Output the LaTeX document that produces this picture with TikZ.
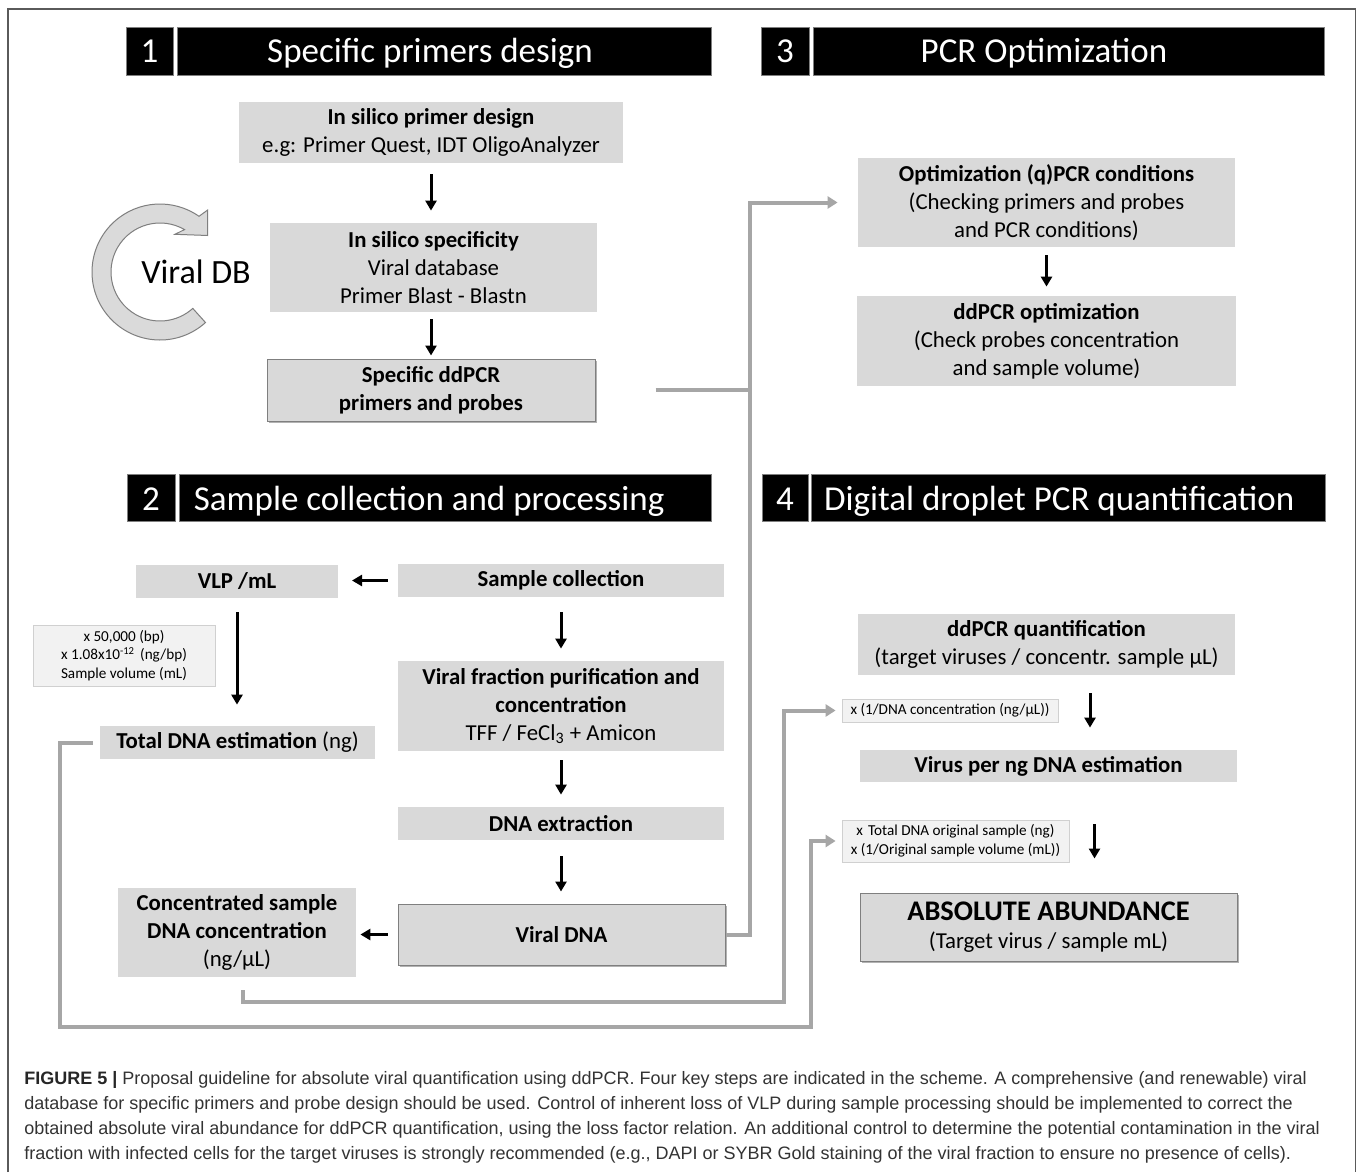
\documentclass[tikz,border=0pt]{standalone}
\usepackage{fontspec}
\setmainfont{Carlito}
\newfontfamily\capfont{Liberation Sans}
\usetikzlibrary{arrows.meta,shadows,calc}
\definecolor{boxgray}{HTML}{D9D9D9}
\definecolor{lightbox}{HTML}{F2F2F2}
\definecolor{lightedge}{HTML}{D0D0D0}
\definecolor{connector}{HTML}{A6A6A6}
\definecolor{edgegray}{HTML}{7F7F7F}
\definecolor{framegray}{HTML}{5A5A5A}
\definecolor{captext}{HTML}{333333}
\definecolor{circfill}{HTML}{DADADA}
\newcommand\fsz[2]{\fontsize{#1pt}{#2pt}\selectfont}
\begin{document}
\begin{tikzpicture}[x=0.5pt,y=-0.5pt,
  numbox/.style={fill=black, draw=edgegray, line width=0.4pt, inner sep=0pt},
  barbox/.style={fill=black, draw=edgegray, line width=0.4pt, inner sep=0pt},
  bartext/.style={text=white, inner sep=0pt, anchor=base, font=\fsz{17.5}{21}},
  gbox/.style={fill=boxgray, inner sep=0pt, align=center, font=\fsz{11.4}{14}},
  sbox/.style={gbox, draw=edgegray, line width=0.5pt, drop shadow={shadow xshift=1pt, shadow yshift=-1pt, fill=black, opacity=0.3}},
  smallbox/.style={fill=lightbox, draw=lightedge, line width=0.4pt, inner sep=0pt, align=center, font=\fsz{7.6}{9.35}},
  barrow/.style={draw=black, line width=1.5pt, -{Triangle[length=5pt,width=5.5pt]}},
  garrow/.style={draw=connector, line width=2pt, -{Triangle[length=5pt,width=6pt]}},
  gline/.style={draw=connector, line width=2pt},
  captxt/.style={anchor=base west, inner sep=0pt, font=\capfont\fsz{9}{12}, text=captext}
]
\useasboundingbox (0,0) rectangle (1358,1172);
\fill[white] (0,0) rectangle (1358,1172);
\draw[framegray, line width=0.8pt] (8,1172) -- (8,9) -- (1355.5,9) -- (1355.5,1172);

% headers
\node[numbox, minimum width=23.5pt, minimum height=24pt] (n1) at (149.5,51) {};
\node[bartext] (d1) at (149.5,63) {1};
\node[barbox, minimum width=267pt, minimum height=24pt] (b1) at (444,51) {};
\node[bartext] (t1) at (430,63) {Specific primers design};
\node[numbox, minimum width=24pt, minimum height=24pt] (n3) at (785,51) {};
\node[bartext] (d3) at (785,63) {3};
\node[barbox, minimum width=255.4pt, minimum height=24pt] (b3) at (1069,51) {};
\node[bartext] (t3) at (1044,63) {PCR Optimization};
\node[numbox, minimum width=24pt, minimum height=23.5pt] (n2) at (151,497.5) {};
\node[bartext] (d2) at (151,510) {2};
\node[barbox, minimum width=266.4pt, minimum height=23.5pt] (b2) at (445.35,497.5) {};
\node[bartext, anchor=base west] (t2) at (193.5,510) {Sample collection and processing};
\node[numbox, minimum width=23pt, minimum height=23.5pt] (n4) at (785,497.5) {};
\node[bartext] (d4) at (785,510) {4};
\node[barbox, minimum width=256.7pt, minimum height=23.5pt] (b4) at (1068.35,497.5) {};
\node[bartext, anchor=base west] (t4) at (823.6,510) {Digital droplet PCR quantification};

% circular arrow
\filldraw[fill=circfill, draw=edgegray, line width=0.5pt]
  ($(160,272)+(48:68)$) arc[start angle=48, end angle=305, radius=68]
  -- (207.7,210) -- (207.7,235.5) -- (175,234.3)
  -- ($(160,272)+(300:49)$) arc[start angle=300, end angle=48, radius=49] -- cycle;
\node[inner sep=0pt, font=\fsz{17}{20}] (vdb) at (196,272) {Viral DB};

% section 1
\node[gbox, minimum width=192pt, minimum height=30.5pt] (A) at (431,132.5)
  {\textbf{In silico primer design}\\e.g: Primer Quest, IDT OligoAnalyzer};
\node[gbox, minimum width=163.5pt, minimum height=44.5pt] (B) at (433.5,267.5)
  {\textbf{In silico specificity}\\Viral database\\Primer Blast - Blastn};
\node[sbox, minimum width=164pt, minimum height=31pt] (C) at (431,390)
  {\textbf{Specific ddPCR}\\\textbf{primers and probes}};

% section 3
\node[gbox, minimum width=188.5pt, minimum height=44.5pt] (D) at (1046.5,202.5)
  {\textbf{Optimization (q)PCR conditions}\\(Checking primers and probes\\and PCR conditions)};
\node[gbox, minimum width=189.5pt, minimum height=45pt] (E) at (1046.5,341)
  {\textbf{ddPCR optimization}\\(Check probes concentration\\and sample volume)};

% section 2
\node[gbox, minimum width=101pt, minimum height=16.5pt] (F) at (237,581.5) {\textbf{VLP /mL}};
\node[gbox, minimum width=163pt, minimum height=16.5pt] (G) at (561,580.5) {\textbf{Sample collection}};
\node[smallbox, minimum width=91pt, minimum height=30.5pt] (H) at (124,655.5)
  {x 50,000 (bp)\\x 1.08x10\textsuperscript{-12}\,\,(ng/bp)\\Sample volume (mL)};
\node[gbox, minimum width=137.5pt, minimum height=16.5pt] (I) at (237.5,742.5) {\textbf{Total DNA estimation} (ng)};
\node[gbox, minimum width=163pt, minimum height=45pt] (J) at (561,706)
  {\textbf{Viral fraction purification and}\\\textbf{concentration}\\TFF / FeCl\textsubscript{3} + Amicon};
\node[gbox, minimum width=163pt, minimum height=16.5pt] (K) at (561,823.5) {\textbf{DNA extraction}};
\node[sbox, minimum width=163.5pt, minimum height=30.5pt] (L) at (561.5,934.5) {\textbf{Viral DNA}};
\node[gbox, minimum width=119pt, minimum height=44.5pt] (M) at (237,932.5)
  {\textbf{Concentrated sample}\\\textbf{DNA concentration}\\(ng/µL)};

% section 4
\node[gbox, minimum width=188.5pt, minimum height=30.5pt] (N) at (1046.5,644.5)
  {\textbf{ddPCR quantification}\\(target viruses / concentr. sample µL)};
\node[smallbox, minimum width=108pt, minimum height=11.5pt] (O) at (950,710.5)
  {x (1/DNA concentration (ng/µL))};
\node[gbox, minimum width=188.5pt, minimum height=16pt] (P) at (1048.5,766) {\textbf{Virus per ng DNA estimation}};
\node[smallbox, minimum width=113.5pt, minimum height=21pt] (Q) at (955.5,841)
  {x\,\,Total DNA original sample (ng)\\x (1/Original sample volume (mL))};
\node[sbox, minimum width=188.5pt, minimum height=34pt] (R) at (1048.5,927)
  {{\fsz{14.2}{15.5}\textbf{ABSOLUTE ABUNDANCE}}\\(Target virus / sample mL)};

% black arrows
\draw[barrow, shorten <=5.5pt, shorten >=6pt] (A.south) -- (A.south |- B.north);
\draw[barrow, shorten <=3.5pt, shorten >=1.5pt] (B.south -| C.north) -- (C.north);
\draw[barrow, shorten <=4pt, shorten >=4.5pt] (D.south) -- (D.south |- E.north);
\draw[barrow, shorten <=5pt, shorten >=6.8pt] (G.west) -- (G.west -| F.east);
\draw[barrow, shorten <=7pt, shorten >=10.5pt] (F.south) -- (F.south |- I.north);
\draw[barrow, shorten <=7.5pt, shorten >=6pt] (G.south) -- (J.north);
\draw[barrow, shorten <=4.5pt, shorten >=6pt] (J.south) -- (K.north);
\draw[barrow, shorten <=8pt, shorten >=6pt] (K.south) -- (K.south |- L.north);
\draw[barrow, shorten <=5pt, shorten >=2pt] (L.west) -- (L.west -| M.east);
\draw[barrow, shorten <=8.8pt, shorten >=11pt] ([xshift=21.75pt]N.south) -- ([xshift=21.75pt]N.south |- P.north);
\draw[barrow, shorten <=21pt, shorten >=17pt] ([xshift=23pt]P.south) -- ([xshift=23pt]P.south |- R.north);

% gray connectors
\draw[gline] ([xshift=30pt]C.east) -- ++(47pt,0);
\draw[garrow, shorten >=10pt] (L.east) -- ++(12pt,0) |- (D.west);
\coordinate (c2) at (784,1002);
\draw[garrow, shorten >=3pt] ([shift={(3pt,-6.5pt)}]M.south) |- (c2) |- (O.west);
\coordinate (c3a) at (60,1027);
\coordinate (c3b) at (811,1027);
\draw[garrow, shorten >=3pt] ([xshift=-3.5pt]I.west) -| (c3a) -- (c3b) |- (Q.west);

% caption
\node[captxt] (cap1) at (24,1084) {{\bfseries\color{black!85}FIGURE 5 |} Proposal guideline for absolute viral quantification using ddPCR. Four key steps are indicated in the scheme. A comprehensive (and renewable) viral};
\node[captxt] (cap2) at (24,1109) {database for specific primers and probe design should be used. Control of inherent loss of VLP during sample processing should be implemented to correct the};
\node[captxt] (cap3) at (24,1134) {obtained absolute viral abundance for ddPCR quantification, using the loss factor relation. An additional control to determine the potential contamination in the viral};
\node[captxt] (cap4) at (24,1159) {fraction with infected cells for the target viruses is strongly recommended (e.g., DAPI or SYBR Gold staining of the viral fraction to ensure no presence of cells).};
\end{tikzpicture}
\end{document}
